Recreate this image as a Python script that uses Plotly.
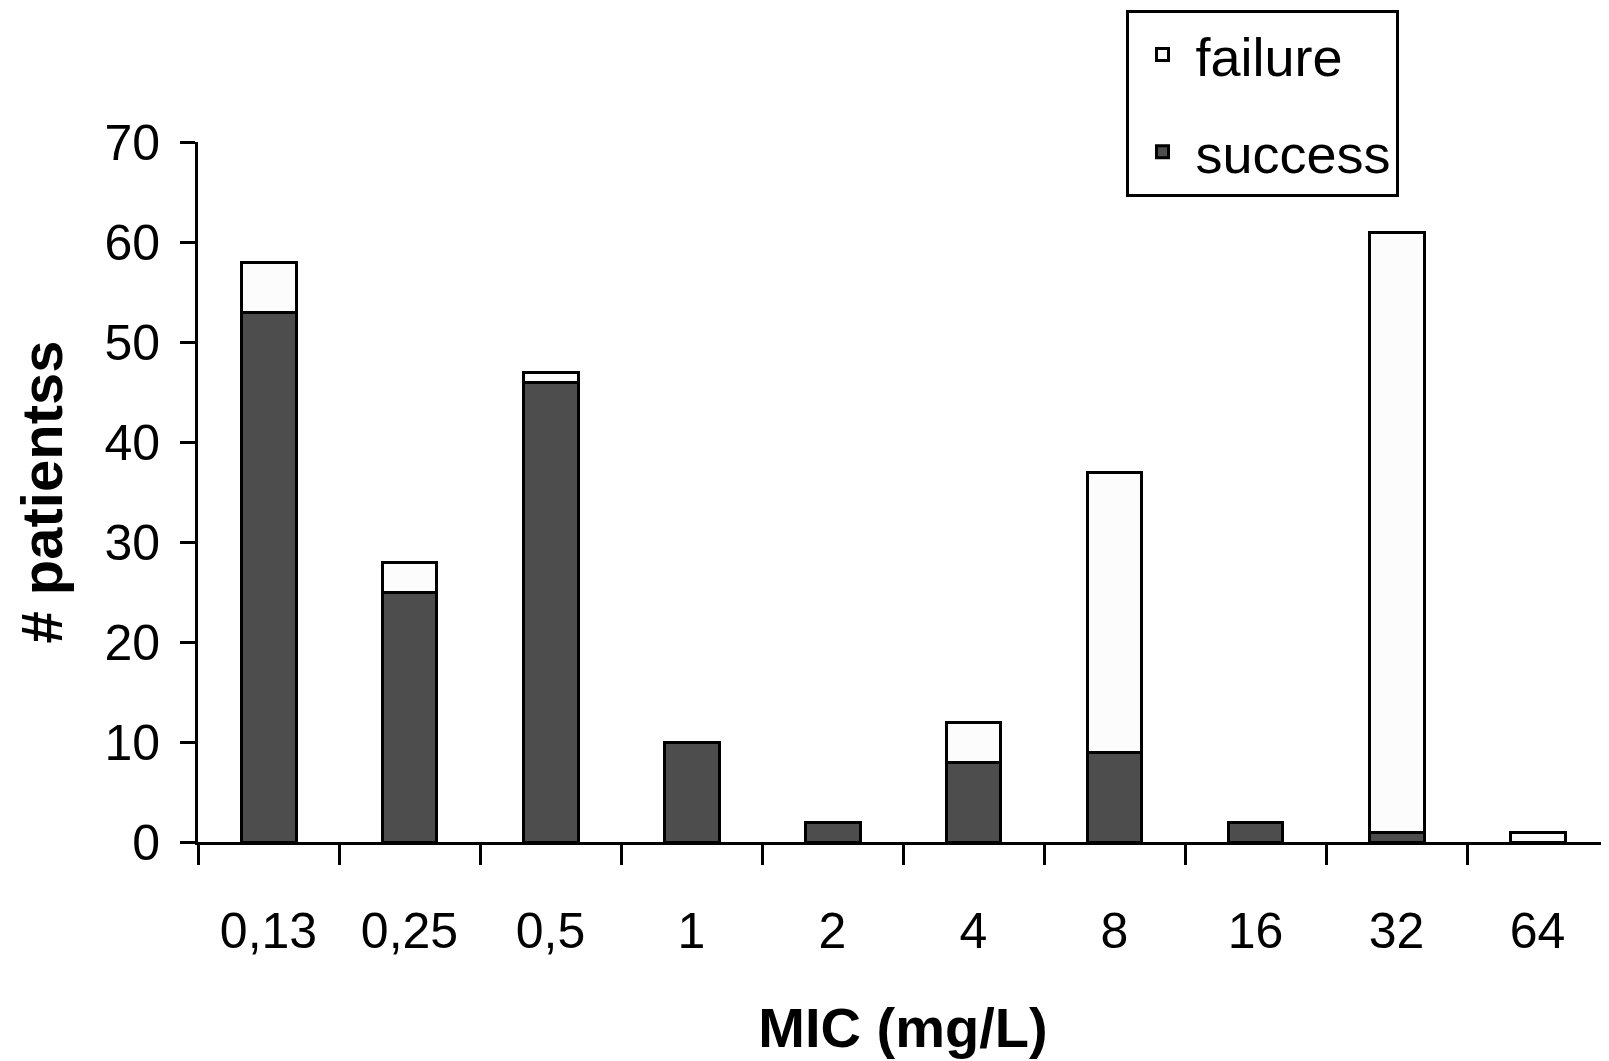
import plotly.graph_objects as go

categories = ["0,13", "0,25", "0,5", "1", "2", "4", "8", "16", "32", "64"]
success = [53, 25, 46, 10, 2, 8, 9, 2, 1, 0]
failure = [5, 3, 1, 0, 0, 4, 28, 0, 60, 1]
y_ticks = [0, 10, 20, 30, 40, 50, 60, 70]

FONT = "Liberation Sans, Arial, sans-serif"

fig = go.Figure()
fig.add_trace(go.Bar(
    x=categories, y=success, name="success", legendgroup="s", legendrank=2,
    marker=dict(color="#4d4d4d", line=dict(color="black", width=3)),
))
fig.add_trace(go.Bar(
    x=categories, y=failure, name="failure", legendgroup="f", legendrank=1,
    marker=dict(color="#fcfcfc", line=dict(color="black", width=3)),
))

fig.update_layout(
    width=1601, height=1053,
    barmode="stack", bargap=0.61,
    plot_bgcolor="white", paper_bgcolor="white",
    margin=dict(l=190, r=1, t=134, b=219, autoexpand=False),
    font=dict(family=FONT, color="black", size=50),
    legend=dict(
        x=0.6585, xanchor="left", y=1.1886, yanchor="top",
        bordercolor="black", borderwidth=3, bgcolor="white",
        font=dict(size=54, family=FONT), tracegroupgap=24,
        traceorder="grouped", itemwidth=56,
    ),
    xaxis=dict(
        type="category", range=[-0.5, 9.5],
        showline=True, linecolor="black", linewidth=3,
        ticks="outside", tickson="boundaries", ticklen=20, tickwidth=3, tickcolor="black",
        tickfont=dict(size=50, family=FONT), ticklabelstandoff=43,
        showgrid=False, zeroline=False,
        title=dict(text="<b>MIC (mg/L)</b>", font=dict(size=56, family=FONT), standoff=50),
    ),
    yaxis=dict(
        range=[0, 70], tickvals=y_ticks,
        showline=True, linecolor="black", linewidth=3,
        ticks="outside", ticklen=15, tickwidth=3, tickcolor="black",
        tickfont=dict(size=50, family=FONT), ticklabelstandoff=10,
        showgrid=False, zeroline=False,
        title=dict(text="<b># patientss</b>", font=dict(size=58, family=FONT), standoff=24),
    ),
)

fig.write_html("out.html")
